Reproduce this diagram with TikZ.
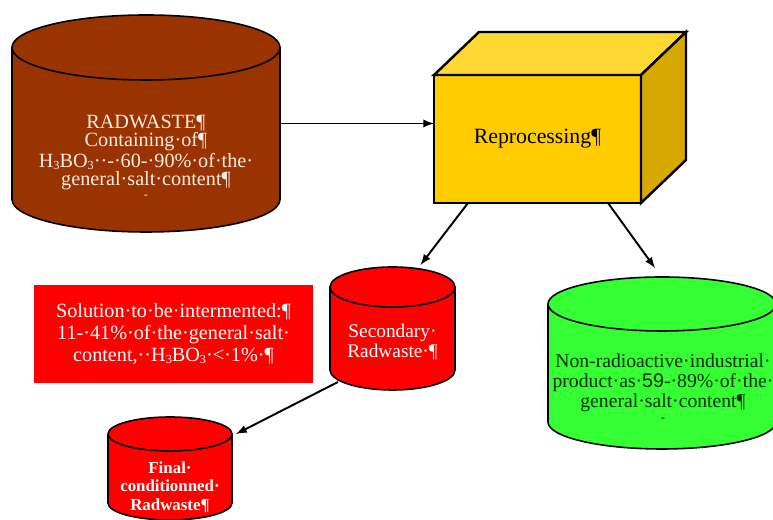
\documentclass[tikz,border=0pt]{standalone}
\usepackage{fontspec}
\setmainfont{Liberation Serif}
\setsansfont{Liberation Sans}
\usetikzlibrary{calc,backgrounds}

\definecolor{radbrown}{RGB}{153,51,0}
\definecolor{radtext}{RGB}{255,236,228}
\definecolor{boxfront}{RGB}{255,204,0}
\definecolor{boxtop}{RGB}{255,216,51}
\definecolor{boxside}{RGB}{214,168,0}
\definecolor{radred}{RGB}{255,0,0}
\definecolor{prodgreen}{RGB}{51,255,51}
\definecolor{prodtext}{RGB}{10,45,10}

\newcommand\borsub[1]{\raisebox{-0.25ex}{\scriptsize #1}}
% cylinder drawn round a node: name, x radius, y radius, fill
\newcommand\drawcyl[4]{%
    \draw[cylline, fill=#4]
        ([yshift=-#3]#1.north west) -- ([yshift=#3]#1.south west)
        arc[start angle=180, end angle=360, x radius=#2, y radius=#3]
        -- ([yshift=-#3]#1.north east)
        arc[start angle=0, end angle=180, x radius=#2, y radius=#3] -- cycle;
    \draw[cylline]
        ([yshift=-#3]#1.north west)
        arc[start angle=180, end angle=360, x radius=#2, y radius=#3];}

\tikzset{>=latex,
          cylbox/.style={inner sep=0pt, outer sep=0pt},
         cylline/.style={draw, line width=0.9pt},
             txt/.style={align=center, font=\fontsize{11.5}{10.5}\selectfont},
            face/.style={draw, line width=1.4pt, outer sep=0pt, line join=miter},
            link/.style={->, line width=1.1pt}}

\begin{document}
\begin{tikzpicture}
        \useasboundingbox (0,0) rectangle (15.46,10.4);

        \node[cylbox, minimum width=5.36cm, minimum height=4.34cm,
              label={[txt, text=radtext, yshift=-0.67cm]center:{RADWASTE¶\\Containing·of¶\\H\borsub{3}BO\borsub{3}··-·60-·90\%·of·the·\\general·salt·content¶\\[-3pt]{\scriptsize -}}}]
              at ( 2.92, 7.93) (radwaste) {};
        \node[cylbox, minimum width=2.50cm, minimum height=2.46cm,
              label={[txt, text=white, font=\fontsize{11}{11.5}\selectfont, yshift=-0.27cm]center:{Secondary·\\Radwaste·¶}}]
              at ( 7.85, 3.83) (secondary) {};
        \node[cylbox, minimum width=2.48cm, minimum height=2.06cm,
              label={[txt, text=white, font=\bfseries\fontsize{9.6}{10.6}\selectfont, yshift=-0.37cm]center:{Final·\\conditionned·\\Radwaste¶}}]
              at ( 3.40, 1.03) (final) {};
        \node[cylbox, minimum width=4.56cm, minimum height=3.44cm,
              label={[txt, text=prodtext, font=\fontsize{11.2}{11.3}\selectfont, xshift=0.02cm, yshift=-0.5cm]center:{Non-radioactive·industrial·\\product·as·{\sffamily 59}-·89\%·of·the·\\general·salt·content¶\\[-3pt]{\scriptsize -}}}]
              at (13.24, 3.14) (product) {};

        \begin{scope}[on background layer]
            \drawcyl{radwaste}{2.68cm}{0.65cm}{radbrown}
            \drawcyl{secondary}{1.25cm}{0.40cm}{radred}
            \drawcyl{final}{1.24cm}{0.34cm}{radred}
            \drawcyl{product}{2.28cm}{0.54cm}{prodgreen}
        \end{scope}

        \node[face, fill=boxfront, minimum width=4.14cm, minimum height=2.56cm,
              font=\fontsize{12.4}{13}\selectfont] at (10.75, 7.62) (repro) {Reprocessing¶};
        \draw[face, fill=boxtop]  (repro.north west) -- ++(0.9, 0.86) -- ++(4.14, 0) -- (repro.north east) -- cycle;
        \draw[face, fill=boxside] (repro.north east) -- ++(0.9, 0.86) -- ++(0, -2.56) -- (repro.south east) -- cycle;

        \node[fill=radred, text=white, minimum width=5.58cm, minimum height=1.96cm, align=center,
              font=\fontsize{11.5}{12.3}\selectfont] at ( 3.47, 3.72) (solution)
              {Solution·to·be·intermented:¶\\11-·41\%·of·the·general·salt·\\content,··H\borsub{3}BO\borsub{3}·<·1\%·¶};

        \draw[link] (radwaste.east) -- (radwaste.east -| repro.west);
        \draw[link] ($(repro.south west)+(0.68, 0)$) -- ($(secondary.north)+(0.56, 0.04)$);
        \draw[link] ($(repro.south east)+(-0.66, 0)$) -- ($(product.north)+(-0.14, 0.18)$);
        \draw[link] ($(secondary.south west)+(0.16, 0.16)$) -- ($(final.north east)+(0.08, -0.34)$);
\end{tikzpicture}
\end{document}
